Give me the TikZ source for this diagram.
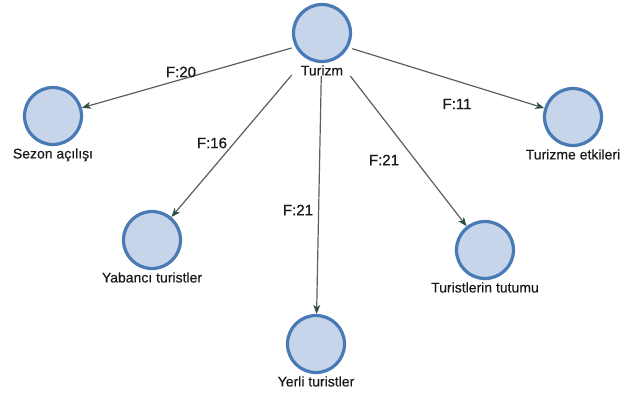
\documentclass[tikz,border=0pt]{standalone}
\usepackage{fontspec}
\setmainfont{Liberation Sans}
\usetikzlibrary{arrows.meta,fit}
\definecolor{cfill}{RGB}{198,213,233}
\definecolor{cline}{RGB}{72,122,182}
\definecolor{eline}{RGB}{88,96,92}
\definecolor{tipc}{RGB}{45,80,70}
\tikzset{
  topic/.style={circle,draw=cline,fill=cfill,line width=3.2pt,minimum size=57pt,inner sep=0pt},
  nlab/.style={inner sep=0pt,font=\fontsize{14}{16}\selectfont\addfontfeature{FakeBold=0.4},text=black!90},
  elab/.style={inner sep=0pt,font=\fontsize{15}{17}\selectfont\addfontfeature{FakeBold=0.8},text=black!90},
  conn/.style={draw=eline,line width=1.2pt,-{Stealth[length=9pt,width=7pt,inset=2.5pt,color=tipc]}},
}
\begin{document}
\begin{tikzpicture}[x=1pt,y=-1pt]
\useasboundingbox (0,0) rectangle (630,394);
\node[topic,label={[nlab,name=tzl,label distance=2pt]below:Turizm}] (tz) at (322,33) {};
\node[topic,label={[nlab,name=sal,label distance=2pt]below:Sezon açılışı}] (sa) at (53,116) {};
\node[topic,label={[nlab,name=tel,label distance=2pt]below:Turizme etkileri}] (te) at (573,117) {};
\node[topic,label={[nlab,name=ytl,label distance=2pt]below:Yabancı turistler}] (yt) at (152,240) {};
\node[topic,label={[nlab,name=yel,label distance=2pt]below:Yerli turistler}] (ye) at (316,344) {};
\node[topic,label={[nlab,name=ttl,label distance=2pt]below:Turistlerin tutumu}] (tt) at (485,250) {};
\node[fit=(tz)(tzl),inner sep=0pt] (tzbox) {};
\draw[conn] (tzbox) -- (sa);
\draw[conn] (tzbox) -- (te);
\draw[conn] (tzbox) -- (yt);
\draw[conn] (tzbox) -- (ye);
\draw[conn] (tzbox) -- (tt);
\node[elab] (f1) at (181,72) {F:20};
\node[elab] (f2) at (212,143) {F:16};
\node[elab] (f3) at (298,210) {F:21};
\node[elab] (f4) at (384,160) {F:21};
\node[elab] (f5) at (457,104) {F:11};
\end{tikzpicture}
\end{document}
